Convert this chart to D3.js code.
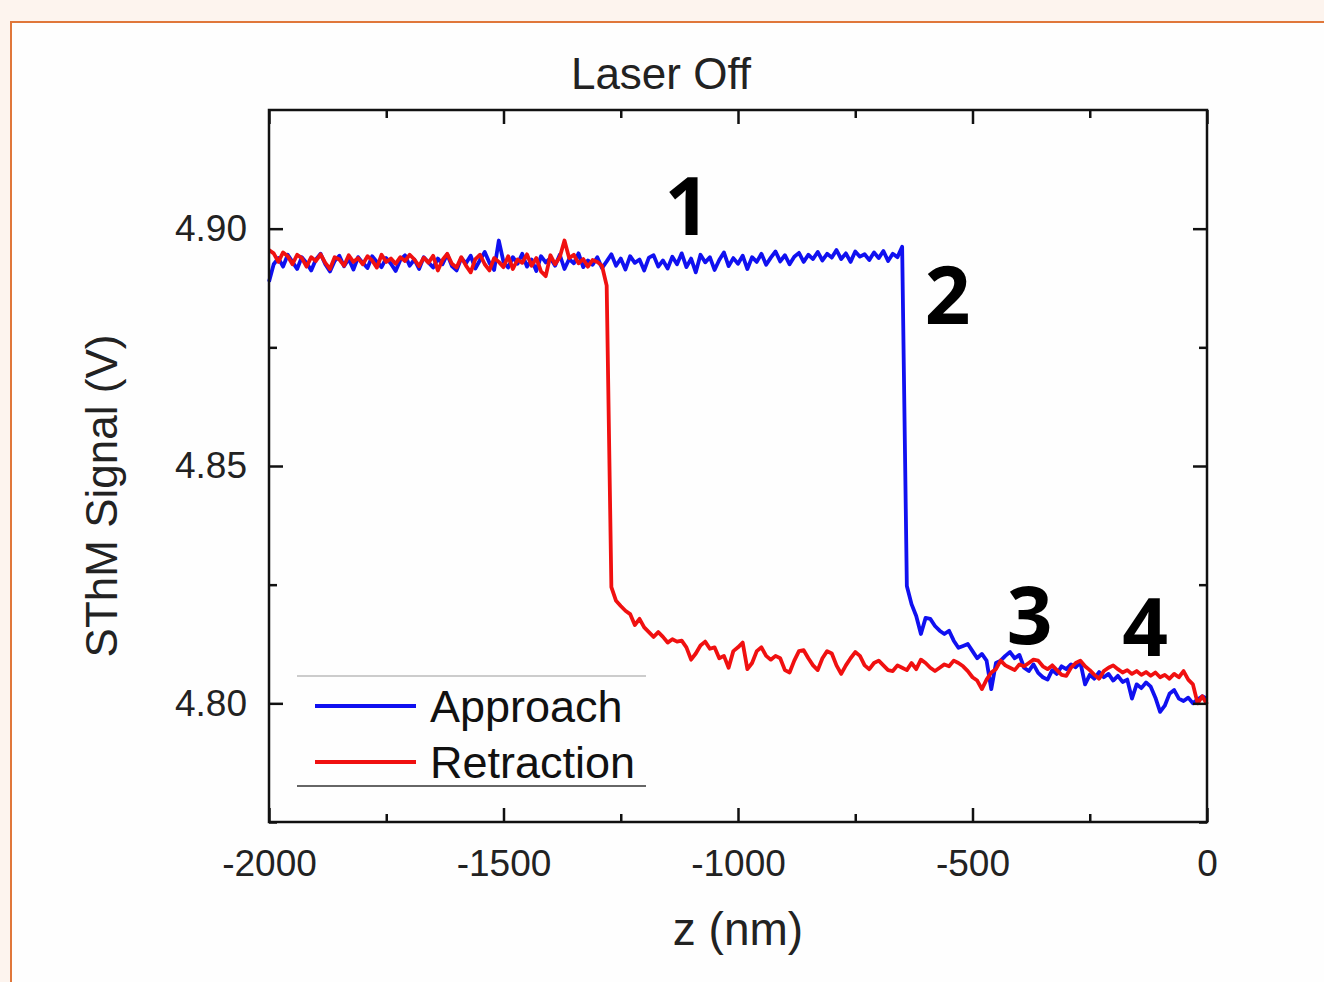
<!DOCTYPE html>
<html>
<head>
<meta charset="utf-8">
<script src="https://cdn.jsdelivr.net/npm/d3@7"></script>
<style>
html,body{margin:0;padding:0;background:#fdf4ee;}
svg{display:block;}
</style>
</head>
<body>
<svg id="chart" width="1324" height="982"></svg>
<script>
// ---- data ----
const zStart = -2000, zStep = 10;
const xTicks = [-2000, -1500, -1000, -500, 0];
const xMinorTicks = [-1750, -1250, -750, -250];
const yTicks = [4.80, 4.85, 4.90];
const yMinorTicks = [4.775, 4.825, 4.875];
const seriesNames = ["Approach", "Retraction"];
const annotations = [
  {label: "1", z: -1108, v: 4.8987},
  {label: "2", z: -553, v: 4.8800},
  {label: "3", z: -378, v: 4.8125},
  {label: "4", z: -132, v: 4.8100}
];

const approach = [
  4.8888, 4.8925, 4.8938, 4.8920, 4.8945, 4.8930, 4.8915, 4.8940, 4.8928, 4.8912,
  4.8935, 4.8947, 4.8925, 4.8910, 4.8932, 4.8943, 4.8921, 4.8936, 4.8914, 4.8940,
  4.8928, 4.8917, 4.8942, 4.8930, 4.8919, 4.8938, 4.8926, 4.8911, 4.8934, 4.8944,
  4.8922, 4.8935, 4.8915, 4.8940, 4.8929, 4.8918, 4.8937, 4.8925, 4.8946, 4.8921,
  4.8912, 4.8938, 4.8927, 4.8943, 4.8916, 4.8934, 4.8951, 4.8928, 4.8913, 4.8975,
  4.8930, 4.8918, 4.8940, 4.8926, 4.8947, 4.8920, 4.8935, 4.8911, 4.8942, 4.8929,
  4.8938, 4.8922, 4.8945, 4.8915, 4.8936, 4.8927, 4.8948, 4.8919, 4.8933, 4.8924,
  4.8940, 4.8917, 4.8931, 4.8946, 4.8922, 4.8937, 4.8914, 4.8942, 4.8928, 4.8935,
  4.8912, 4.8939, 4.8944, 4.8920, 4.8933, 4.8916, 4.8941, 4.8925, 4.8948, 4.8919,
  4.8937, 4.8908, 4.8945, 4.8929, 4.8940, 4.8913, 4.8934, 4.8950, 4.8921, 4.8938,
  4.8926, 4.8943, 4.8915, 4.8940, 4.8930, 4.8947, 4.8924, 4.8939, 4.8952, 4.8931,
  4.8944, 4.8925, 4.8941, 4.8949, 4.8930, 4.8945, 4.8936, 4.8951, 4.8933, 4.8947,
  4.8939, 4.8955, 4.8936, 4.8948, 4.8930, 4.8952, 4.8941, 4.8946, 4.8934, 4.8950,
  4.8938, 4.8953, 4.8932, 4.8947, 4.8940,
  4.8962,
  4.8247, 4.8209, 4.8184, 4.8146, 4.8180, 4.8178, 4.8163, 4.8153, 4.8146, 4.8153,
  4.8132, 4.8117, 4.8121, 4.8125, 4.8110, 4.8095, 4.8104, 4.8090, 4.8030, 4.8085,
  4.8090, 4.8100, 4.8108, 4.8095, 4.8102, 4.8075, 4.8068, 4.8082, 4.8064, 4.8055,
  4.8050, 4.8070, 4.8062, 4.8078, 4.8072, 4.8082, 4.8076, 4.8086, 4.8040, 4.8060,
  4.8052, 4.8066, 4.8055, 4.8062, 4.8048, 4.8058, 4.8045, 4.8050, 4.8010, 4.8040,
  4.8032, 4.8044, 4.8035, 4.8012, 4.7982, 4.7995, 4.8020, 4.8028, 4.8010, 4.8005,
  4.8012, 4.8000, 4.8008, 4.8015, 4.8010
];

const retraction = [
  4.8955, 4.8948, 4.8930, 4.8950, 4.8942, 4.8925, 4.8945, 4.8938, 4.8920, 4.8940,
  4.8932, 4.8946, 4.8928, 4.8915, 4.8940, 4.8935, 4.8922, 4.8944, 4.8930, 4.8938,
  4.8925, 4.8942, 4.8933, 4.8918, 4.8945, 4.8930, 4.8937, 4.8926, 4.8940, 4.8932,
  4.8945, 4.8935, 4.8921, 4.8939, 4.8928, 4.8943, 4.8912, 4.8934, 4.8947, 4.8926,
  4.8918, 4.8940, 4.8922, 4.8908, 4.8936, 4.8945, 4.8925, 4.8912, 4.8938, 4.8930,
  4.8919, 4.8942, 4.8915, 4.8935, 4.8928, 4.8946, 4.8922, 4.8938, 4.8910, 4.8900,
  4.8944, 4.8925, 4.8940, 4.8975, 4.8938, 4.8945, 4.8927, 4.8936, 4.8920, 4.8934,
  4.8930, 4.8922, 4.8880, 4.8245,
  4.8216, 4.8205, 4.8195, 4.8188, 4.8165, 4.8178, 4.8160, 4.8150, 4.8140, 4.8150,
  4.8140, 4.8128, 4.8135, 4.8130, 4.8132, 4.8118, 4.8092, 4.8105, 4.8122, 4.8130,
  4.8115, 4.8118, 4.8095, 4.8100, 4.8075, 4.8110, 4.8118, 4.8128, 4.8072, 4.8085,
  4.8110, 4.8118, 4.8100, 4.8092, 4.8100, 4.8095, 4.8070, 4.8065, 4.8090, 4.8110,
  4.8112, 4.8095, 4.8080, 4.8070, 4.8095, 4.8110, 4.8105, 4.8080, 4.8062, 4.8080,
  4.8095, 4.8108, 4.8100, 4.8080, 4.8072, 4.8085, 4.8090, 4.8080, 4.8070, 4.8068,
  4.8080, 4.8075, 4.8070, 4.8085, 4.8072, 4.8092, 4.8085, 4.8075, 4.8068, 4.8075,
  4.8082, 4.8078, 4.8090, 4.8085, 4.8078, 4.8068, 4.8055, 4.8048, 4.8030, 4.8050,
  4.8065, 4.8072, 4.8090, 4.8080, 4.8075, 4.8070, 4.8082, 4.8078, 4.8085, 4.8092,
  4.8090, 4.8078, 4.8072, 4.8080, 4.8070, 4.8060, 4.8058, 4.8075, 4.8085, 4.8090,
  4.8078, 4.8070, 4.8060, 4.8052, 4.8068, 4.8075, 4.8080, 4.8072, 4.8065, 4.8070,
  4.8062, 4.8068, 4.8060, 4.8066, 4.8058, 4.8065, 4.8055, 4.8060, 4.8052, 4.8062,
  4.8055, 4.8068, 4.8050, 4.8040, 4.8000, 4.8015, 4.7998
];

// ---- drawing ----
const svg = d3.select("#chart");
const W = 1324, H = 982;
const plot = {left: 269, right: 1207, top: 110, bottom: 822};

// outer frame
svg.append("rect").attr("x", 0).attr("y", 0).attr("width", W).attr("height", H).attr("fill", "#fdf4ee");
svg.append("rect").attr("x", 11).attr("y", 22).attr("width", W + 20).attr("height", H + 20)
  .attr("fill", "#fefefe").attr("stroke", "#e0773a").attr("stroke-width", 2);

const x = d3.scaleLinear().domain([-2000, 0]).range([plot.left, plot.right]);
const y = d3.scaleLinear().domain([4.775, 4.925]).range([plot.bottom, plot.top]);

const font = "'Liberation Sans', Arial, sans-serif";

// data lines
const toPts = arr => arr.map((v, i) => [zStart + i * zStep, v]);
const line = d3.line().x(d => x(d[0])).y(d => y(d[1]));
const gData = svg.append("g");
gData.append("path").datum(toPts(approach)).attr("d", line)
  .attr("fill", "none").attr("stroke", "#1010f0").attr("stroke-width", 3.8).attr("stroke-linejoin", "round");
gData.append("path").datum(toPts(retraction)).attr("d", line)
  .attr("fill", "none").attr("stroke", "#f01010").attr("stroke-width", 3.8).attr("stroke-linejoin", "round");

// axes
const majorLen = 14, minorLen = 8;
function styleAxis(g) {
  g.select(".domain").remove();
  g.selectAll(".tick line").attr("stroke", "#111").attr("stroke-width", 2.5);
  g.selectAll(".tick text").attr("fill", "#222").attr("font-family", font).attr("font-size", 37);
}
const gxB = svg.append("g").attr("transform", `translate(0,${plot.bottom})`)
  .call(d3.axisBottom(x).tickValues(xTicks).tickSize(-majorLen).tickPadding(28).tickFormat(d3.format("d")));
styleAxis(gxB);
gxB.selectAll(".tick text").text(d => String(d).replace("\u2212", "-"));
svg.append("g").attr("transform", `translate(0,${plot.bottom})`)
  .call(d3.axisBottom(x).tickValues(xMinorTicks).tickSize(-minorLen).tickFormat(""))
  .call(styleAxis);
svg.append("g").attr("transform", `translate(0,${plot.top})`)
  .call(d3.axisTop(x).tickValues(xTicks).tickSize(-majorLen).tickFormat("")).call(styleAxis);
svg.append("g").attr("transform", `translate(0,${plot.top})`)
  .call(d3.axisTop(x).tickValues(xMinorTicks).tickSize(-minorLen).tickFormat("")).call(styleAxis);

const gyL = svg.append("g").attr("transform", `translate(${plot.left},0)`)
  .call(d3.axisLeft(y).tickValues(yTicks).tickSize(-majorLen).tickPadding(22).tickFormat(d3.format(".2f")));
styleAxis(gyL);
svg.append("g").attr("transform", `translate(${plot.left},0)`)
  .call(d3.axisLeft(y).tickValues(yMinorTicks).tickSize(-minorLen).tickFormat("")).call(styleAxis);
svg.append("g").attr("transform", `translate(${plot.right},0)`)
  .call(d3.axisRight(y).tickValues(yTicks).tickSize(-majorLen).tickFormat("")).call(styleAxis);
svg.append("g").attr("transform", `translate(${plot.right},0)`)
  .call(d3.axisRight(y).tickValues(yMinorTicks).tickSize(-minorLen).tickFormat("")).call(styleAxis);

// frame box
svg.append("rect").attr("x", plot.left).attr("y", plot.top)
  .attr("width", plot.right - plot.left).attr("height", plot.bottom - plot.top)
  .attr("fill", "none").attr("stroke", "#111").attr("stroke-width", 2.5);

// title and axis labels
svg.append("text").attr("x", 661).attr("y", 89).attr("text-anchor", "middle")
  .attr("font-family", font).attr("font-size", 44).attr("fill", "#222").text("Laser Off");
svg.append("text").attr("x", 738).attr("y", 945).attr("text-anchor", "middle")
  .attr("font-family", font).attr("font-size", 46).attr("fill", "#222").text("z (nm)");
svg.append("text").attr("transform", "translate(117,496) rotate(-90)").attr("text-anchor", "middle")
  .attr("font-family", font).attr("font-size", 44).attr("fill", "#222").text("SThM Signal (V)");

// legend
const lg = svg.append("g");
lg.append("line").attr("x1", 297).attr("x2", 646).attr("y1", 676).attr("y2", 676).attr("stroke", "#bbb").attr("stroke-width", 1.5);
lg.append("line").attr("x1", 297).attr("x2", 646).attr("y1", 786).attr("y2", 786).attr("stroke", "#666").attr("stroke-width", 2);
const legColors = ["#1010f0", "#f01010"];
seriesNames.forEach((name, i) => {
  const yy = 706 + i * 56;
  lg.append("line").attr("x1", 315).attr("x2", 416).attr("y1", yy).attr("y2", yy)
    .attr("stroke", legColors[i]).attr("stroke-width", 3.8);
  lg.append("text").attr("x", 430).attr("y", yy + 16).attr("font-family", font)
    .attr("font-size", 45).attr("fill", "#111").text(name);
});

// annotations
annotations.forEach(a => {
  svg.append("text").attr("x", x(a.z)).attr("y", y(a.v)).attr("text-anchor", "middle")
    .attr("font-family", "'Open Sans', 'Noto Sans', sans-serif").attr("font-weight", 700)
    .attr("font-size", 80).attr("fill", "#000").text(a.label);
});
</script>
</body>
</html>
